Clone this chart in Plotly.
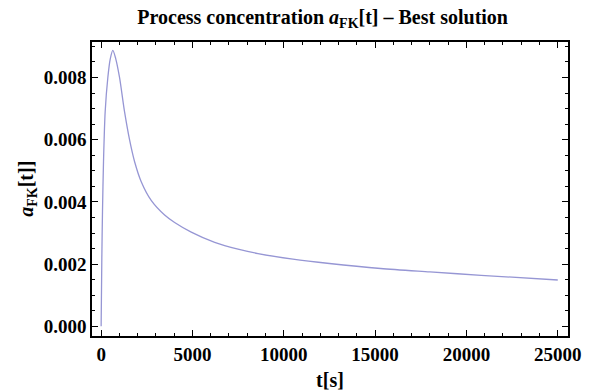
import plotly.graph_objects as go

# time samples [s] and concentration a_FK[t] of the best solution
t_s = [0, 38, 75, 130, 221, 367, 500, 641, 800, 1007, 1281, 1555, 1829, 2195,
       2741, 3475, 4024, 4934, 6217, 7495, 8591, 10500, 12500, 15300, 18000,
       20800, 25000]
a_fk = [0.0, 0.0022, 0.0037, 0.0053, 0.0069, 0.0080, 0.0086, 0.00887, 0.0086,
        0.0080, 0.0069, 0.0060, 0.0053, 0.00465, 0.00405, 0.00358, 0.00334,
        0.00303, 0.0027, 0.00248, 0.00234, 0.00216, 0.00202, 0.00186, 0.00175,
        0.00164, 0.00149]

x_ticks = [0, 5000, 10000, 15000, 20000, 25000]
y_ticks = [0.000, 0.002, 0.004, 0.006, 0.008]
y_tick_text = ["0.000", "0.002", "0.004", "0.006", "0.008"]

SERIF = "Liberation Serif"
tick_font = dict(family=SERIF, size=19, color="black", weight="bold")
label_font = dict(family=SERIF, size=20, color="black", weight="bold")

fig = go.Figure(
    go.Scatter(
        x=t_s, y=a_fk, mode="lines",
        line=dict(color="rgb(150,150,212)", width=1.3, shape="spline", smoothing=0.8),
        hoverinfo="skip",
    )
)

axis_common = dict(
    showgrid=False, zeroline=False, showline=True, linecolor="black", linewidth=1.5,
    mirror="ticks", ticks="inside", ticklen=6, tickwidth=1.2, tickcolor="black",
    tickfont=tick_font, automargin=False,
)

fig.update_xaxes(
    **axis_common,
    range=[-500, 25560],
    tickvals=x_ticks,
    ticktext=[str(v) for v in x_ticks],
    minor=dict(dtick=1000, tick0=0, ticks="inside", ticklen=3.5, tickwidth=1, tickcolor="black"),
    title=dict(text="t[s]", font=label_font, standoff=10),
)
fig.update_yaxes(
    **axis_common,
    range=[-0.00031, 0.00914],
    tickvals=y_ticks,
    ticktext=y_tick_text,
    minor=dict(dtick=0.0005, tick0=0, ticks="inside", ticklen=3.5, tickwidth=1, tickcolor="black"),
)

# y-axis label placed as a rotated annotation left of the tick labels
fig.add_annotation(
    text="<i>a</i><sub>FK</sub>[t]]", font=label_font, textangle=-90,
    xref="paper", yref="paper", x=-0.137, y=0.5, xanchor="center", yanchor="middle",
    showarrow=False,
)

fig.update_layout(
    width=592, height=391,
    margin=dict(l=92, r=24, t=42, b=55, autoexpand=False),
    paper_bgcolor="white", plot_bgcolor="white",
    showlegend=False,
    title=dict(
        text="Process concentration <i>a</i><sub>FK</sub>[t] – Best solution",
        font=dict(family=SERIF, size=20, color="black", weight="bold"),
        x=0.545, xanchor="center", y=1 - 17 / 391, yref="container", yanchor="middle",
    ),
)

fig.write_html("out.html")
